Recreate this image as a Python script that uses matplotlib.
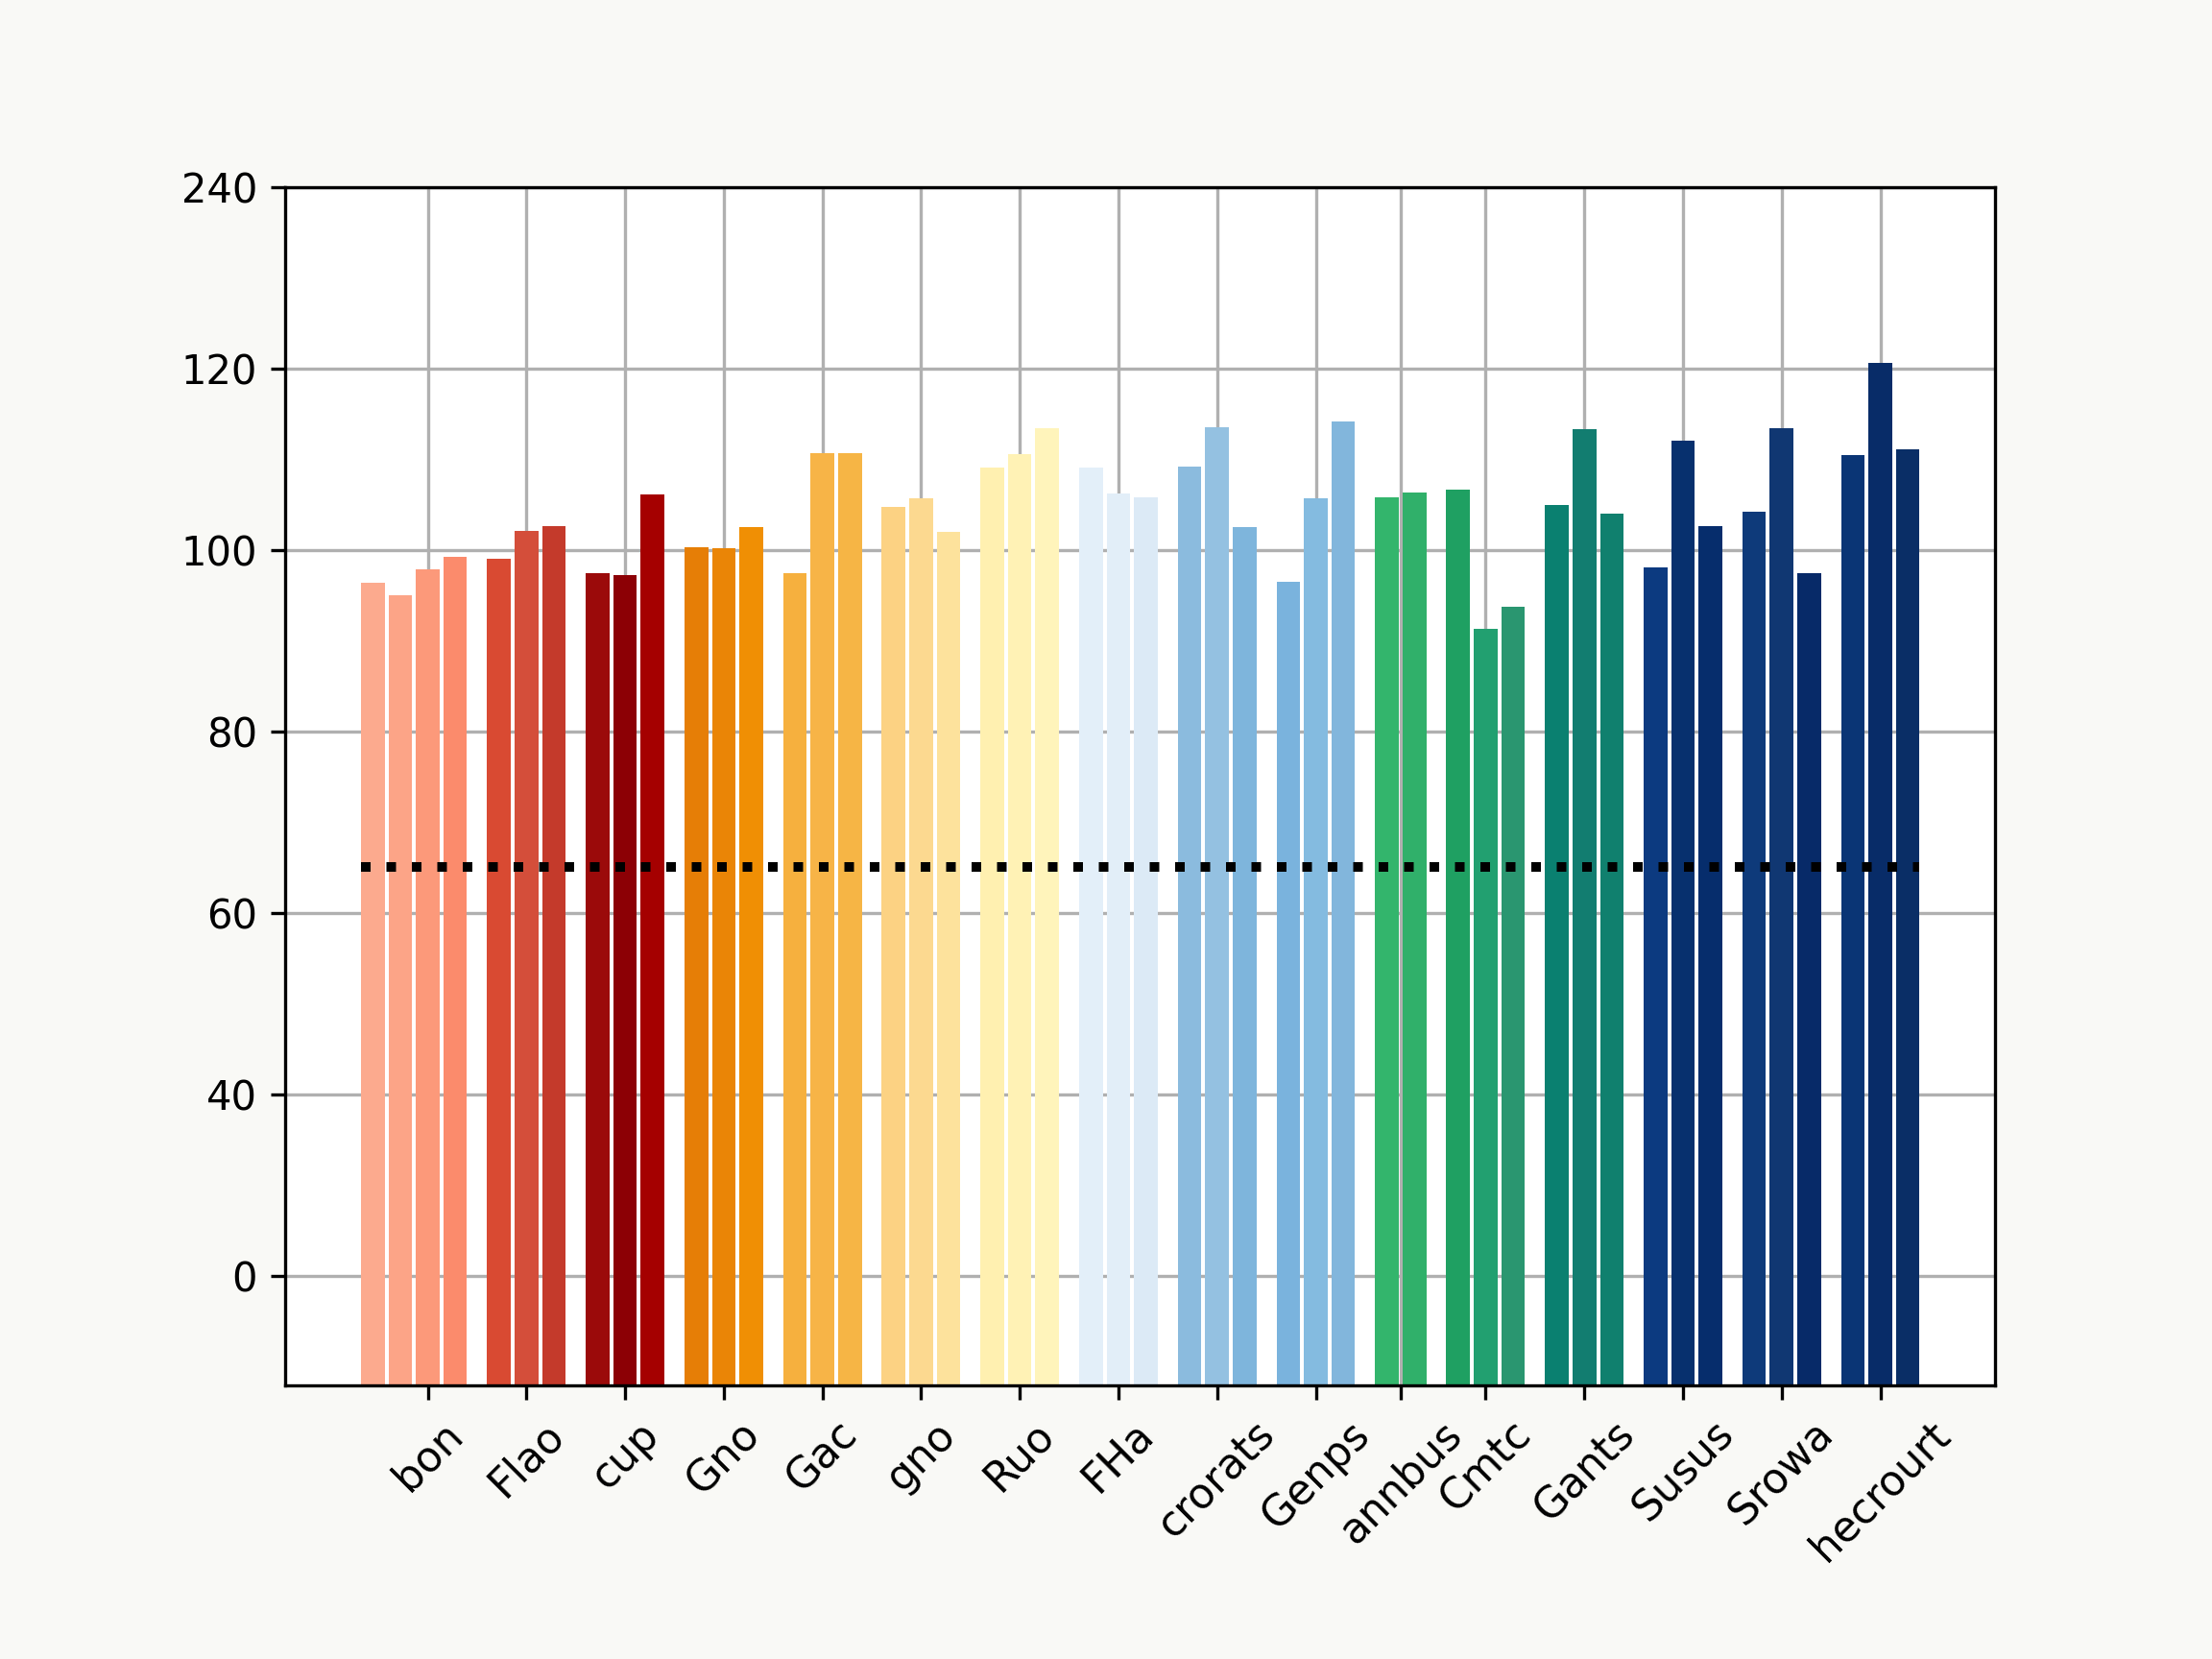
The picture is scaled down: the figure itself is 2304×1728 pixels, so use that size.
import numpy as np
import matplotlib
matplotlib.use("Agg")
import matplotlib.pyplot as plt

# Категории (подписи оси X) и значения столбцов по группам
categories = ['bon', 'Flao', 'cup', 'Gno', 'Gac', 'gno', 'Ruo', 'FHa',
              'crorats', 'Genps', 'annbus', 'Cmtc', 'Gants', 'Susus',
              'Srowa', 'hecrourt']

values = [
    [96.4, 95.0, 97.9, 99.3],
    [99.0, 102.1, 102.7],
    [97.5, 97.3, 106.1],
    [100.3, 100.2, 102.5],
    [97.5, 110.7, 110.7],
    [104.8, 105.7, 102.0],
    [109.1, 110.6, 113.5],
    [109.1, 106.3, 105.8],
    [109.2, 113.6, 102.5],
    [96.5, 105.7, 114.2],
    [105.8, 106.4],
    [106.7, 91.3, 93.8],
    [105.0, 113.3, 104.0],
    [98.1, 112.1, 102.7],
    [104.2, 113.5, 97.5],
    [110.5, 120.6, 111.1],
]

colors = [
    ['#fcaa8e', '#fca487', '#fc997a', '#fb8b6c'],
    ['#d94a32', '#d44e3a', '#c43a2b'],
    ['#9b0a0a', '#8c0005', '#a50000'],
    ['#e67e06', '#ea8506', '#f08f04'],
    ['#f6b03e', '#f7b447', '#f6b545'],
    ['#fcd283', '#fcd990', '#fde29c'],
    ['#fff0b0', '#fff2b5', '#fff4bb'],
    ['#e3eff9', '#e2eef8', '#dceaf6'],
    ['#8bbbde', '#94c1e1', '#7eb5dc'],
    ['#7ab3dd', '#84bbe0', '#82b6dc'],
    ['#33b56c', '#30b06a'],
    ['#1fa062', '#22a070', '#2a9670'],
    ['#0a8070', '#127d70', '#10806e'],
    ['#0c3a80', '#07306e', '#062d6c'],
    ['#0e3a7a', '#103772', '#072a68'],
    ['#0a3575', '#082c68', '#0a2e66'],
]

threshold = 65.1

# Подписи оси Y (как на исходном графике)
ytick_values = [20, 40, 60, 80, 100, 120, 140]
ytick_labels = ['0', '40', '60', '80', '100', '120', '240']

fig = plt.figure(figsize=(7.68, 5.76), dpi=300, facecolor='#f9f9f6')
ax = fig.add_axes([0.129, 0.165, 0.773, 0.722])
ax.set_facecolor('white')

bar_width = 0.86
group_gap = 0.59

pos = 0.0
tick_pos = []
all_x = []
for vals, cols in zip(values, colors):
    xs = pos + np.arange(len(vals))
    ax.bar(xs, vals, width=bar_width, color=cols, zorder=2)
    # метка под средним столбцом группы
    tick_pos.append(xs[len(xs) // 2] if len(xs) > 2 else xs.mean())
    all_x.extend(xs)
    pos = xs[-1] + 1 + group_gap

# Пороговая линия
ax.hlines(threshold, all_x[0] - bar_width / 2, all_x[-1] + bar_width / 2,
          colors='black', linestyles=':', linewidth=2.4, zorder=3)

ax.set_xlim(all_x[0] - 3.18, all_x[-1] + 3.18)
ax.set_ylim(7.9, 140)
ax.set_xticks(tick_pos)
ax.set_xticklabels(categories, rotation=45, ha='center', fontsize=10.5)
ax.set_yticks(ytick_values)
ax.set_yticklabels(ytick_labels, fontsize=10)

ax.grid(True, color='#b0b0b0', linewidth=0.8)
ax.set_axisbelow(True)

fig.savefig('out.png', dpi=300, facecolor=fig.get_facecolor())
